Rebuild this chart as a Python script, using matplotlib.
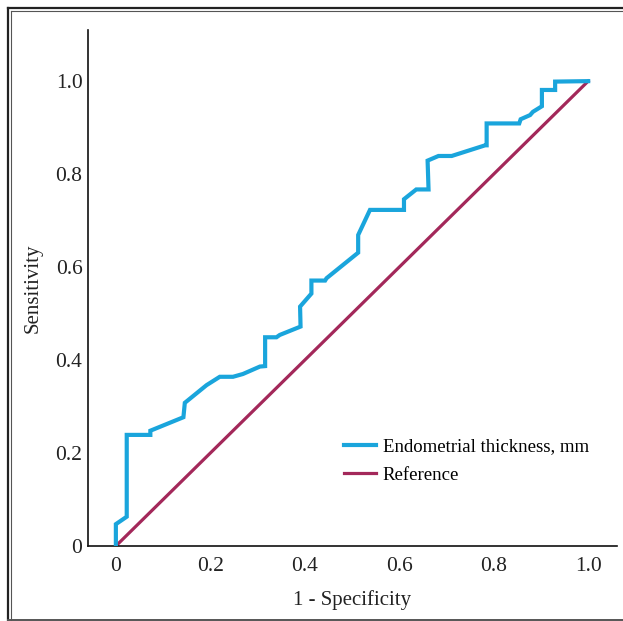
import matplotlib
matplotlib.use("Agg")
import matplotlib.pyplot as plt
from matplotlib.lines import Line2D

plt.rcParams["font.family"] = ["Liberation Serif", "DejaVu Serif"]

# ROC curve (1 - specificity, sensitivity)
fpr = [0.0, 0.0, 0.023, 0.023, 0.073, 0.073, 0.143, 0.146, 0.192, 0.220,
       0.248, 0.269, 0.305, 0.316, 0.316, 0.340, 0.347, 0.391, 0.390, 0.414,
       0.414, 0.443, 0.446, 0.513, 0.513, 0.538, 0.610, 0.610, 0.636, 0.662,
       0.660, 0.683, 0.711, 0.782, 0.785, 0.785, 0.854, 0.857, 0.877, 0.883,
       0.902, 0.902, 0.930, 0.930, 1.0]
tpr = [0.0, 0.047, 0.063, 0.239, 0.239, 0.248, 0.277, 0.308, 0.346, 0.364,
       0.364, 0.370, 0.386, 0.387, 0.449, 0.449, 0.454, 0.472, 0.515, 0.543,
       0.571, 0.571, 0.576, 0.631, 0.669, 0.723, 0.723, 0.746, 0.767, 0.767,
       0.829, 0.839, 0.839, 0.862, 0.862, 0.909, 0.909, 0.918, 0.927, 0.934,
       0.946, 0.981, 0.981, 0.999, 1.0]
ref_x = [0.0, 1.0]
ref_y = [0.0, 1.0]
ticks = [0, 0.2, 0.4, 0.6, 0.8, 1.0]
tick_labels = ["0", "0.2", "0.4", "0.6", "0.8", "1.0"]

W, H = 623, 621
fig = plt.figure(figsize=(W / 100, H / 100), dpi=100)
ax = fig.add_axes([88 / W, 1 - 546 / H, (617 - 88) / W, (546 - 30) / H])

ax.plot(fpr, tpr, color="#1AA5DC", lw=3.0, label="Endometrial thickness, mm",
        solid_joinstyle="miter", zorder=3)
ax.plot(ref_x, ref_y, color="#A3285A", lw=2.3, label="Reference", zorder=2)

ax.set_xlim(-0.059, 1.061)
ax.set_ylim(0, 1.11)
ax.set_xticks(ticks)
ax.set_xticklabels(tick_labels)
ax.set_yticks(ticks)
ax.set_yticklabels(tick_labels)
ax.tick_params(length=0, labelsize=15.5, colors="#222222")
ax.tick_params(axis="x", pad=8)
ax.tick_params(axis="y", pad=4)

for s in ["top", "right"]:
    ax.spines[s].set_visible(False)
for s in ["left", "bottom"]:
    ax.spines[s].set_linewidth(1.2)
    ax.spines[s].set_color("#111111")

ax.set_xlabel("1 - Specificity", fontsize=15, color="#222222", labelpad=10)
ax.set_ylabel("Sensitivity", fontsize=15, color="#222222", labelpad=9)

ax.legend(loc="center left", bbox_to_anchor=(0.483, 0.165), frameon=False,
          fontsize=13.5, handlelength=1.75, handletextpad=0.35, labelspacing=0.6,
          borderpad=0, borderaxespad=0)


def px_line(x0, y0, x1, y1, lw, color):
    fig.add_artist(Line2D([x0 / W, x1 / W], [1 - y0 / H, 1 - y1 / H],
                          transform=fig.transFigure, lw=lw, color=color))


# double frame around the figure
px_line(8, 8, 630, 8, 1.6, "#222222")
px_line(8, 8, 8, 620, 1.6, "#222222")
px_line(11, 11, 630, 11, 0.8, "#555555")
px_line(11, 11, 11, 620, 0.8, "#555555")
px_line(8, 619.5, 630, 619.5, 1.4, "#555555")

fig.savefig("out.png", dpi=100)
